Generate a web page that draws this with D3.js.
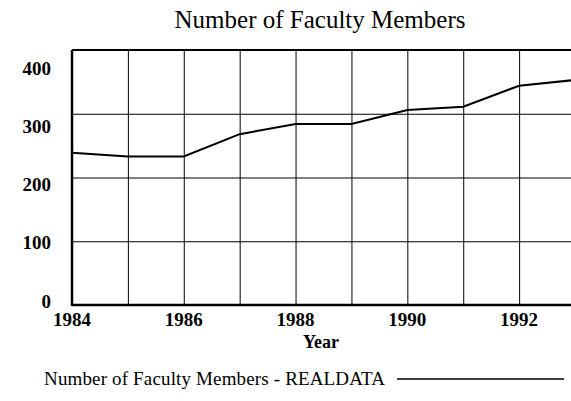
<!DOCTYPE html>
<meta charset="utf-8">
<style>
  body { margin: 0; background: #fff; }
  svg text { font-family: "Liberation Serif", Tinos, "DejaVu Serif", serif; }
  .grid line { stroke: #000; stroke-width: 1; }
  .grid .domain { display: none; }
  .tick-label { font-weight: bold; font-size: 19px; }
</style>
<svg width="571" height="401"></svg>
<script src="https://cdn.jsdelivr.net/npm/d3@7"></script>
<script>
  // data
  var years = [1984, 1985, 1986, 1987, 1988, 1989, 1990, 1991, 1992, 1993];
  var faculty = [239, 233, 233, 268, 284, 284, 306, 311, 344, 353];
  var xTicks = [1984, 1986, 1988, 1990, 1992];
  var yTicks = [0, 100, 200, 300, 400];

  var svg = d3.select("svg");
  var margin = {top: 50, left: 72, bottom: 305};

  var x = d3.scaleLinear().domain([1984, 1993]).range([margin.left, 575]);
  var y = d3.scaleLinear().domain([0, 400]).range([margin.bottom, margin.top]);
  // the labels on the left sit a bit off the gridlines in the original
  var yLab = d3.scaleLinear().domain([0, 400]).range([301, 68]);

  // title
  svg.append("text")
      .attr("x", 320).attr("y", 28)
      .attr("text-anchor", "middle")
      .attr("font-size", 25)
      .text("Number of Faculty Members");

  // grid
  svg.append("g").attr("class", "grid")
      .attr("transform", "translate(0," + margin.bottom + ")")
      .call(d3.axisBottom(x).tickValues(years).tickSize(-(margin.bottom - margin.top)).tickFormat(""));
  svg.append("g").attr("class", "grid")
      .attr("transform", "translate(" + margin.left + ",0)")
      .call(d3.axisLeft(y).tickValues([100, 200, 300]).tickSize(-(571 - margin.left)).tickFormat(""));

  // frame: left, bottom, top
  svg.append("line").attr("x1", margin.left).attr("x2", margin.left)
      .attr("y1", margin.top).attr("y2", margin.bottom + 1)
      .attr("stroke", "#000").attr("stroke-width", 2.5);
  svg.append("line").attr("x1", margin.left).attr("x2", 571)
      .attr("y1", margin.bottom).attr("y2", margin.bottom)
      .attr("stroke", "#000").attr("stroke-width", 2.5);
  svg.append("line").attr("x1", margin.left).attr("x2", 571)
      .attr("y1", margin.top).attr("y2", margin.top)
      .attr("stroke", "#000").attr("stroke-width", 2);

  // tick labels
  svg.append("g").selectAll("text").data(yTicks).enter().append("text")
      .attr("class", "tick-label")
      .attr("x", 51).attr("y", function(d) { return yLab(d); })
      .attr("dy", "0.35em")
      .attr("text-anchor", "end")
      .text(function(d) { return d; });
  svg.append("g").selectAll("text").data(xTicks).enter().append("text")
      .attr("class", "tick-label")
      .attr("x", function(d) { return x(d); }).attr("y", 326)
      .attr("text-anchor", "middle")
      .text(function(d) { return d; });

  svg.append("text")
      .attr("class", "tick-label")
      .attr("x", 321).attr("y", 348)
      .attr("text-anchor", "middle")
      .style("font-size", "18px")
      .text("Year");

  // data line
  var line = d3.line()
      .x(function(d, i) { return x(years[i]); })
      .y(function(d) { return y(d); });
  svg.append("path")
      .datum(faculty)
      .attr("fill", "none")
      .attr("stroke", "#000")
      .attr("stroke-width", 2)
      .attr("d", line);

  // legend
  svg.append("text")
      .attr("x", 44).attr("y", 385)
      .attr("font-size", 19)
      .attr("textLength", 341)
      .text("Number of Faculty Members - REALDATA");
  svg.append("line")
      .attr("x1", 397).attr("x2", 564)
      .attr("y1", 379).attr("y2", 379)
      .attr("stroke", "#000").attr("stroke-width", 1.5);
</script>
